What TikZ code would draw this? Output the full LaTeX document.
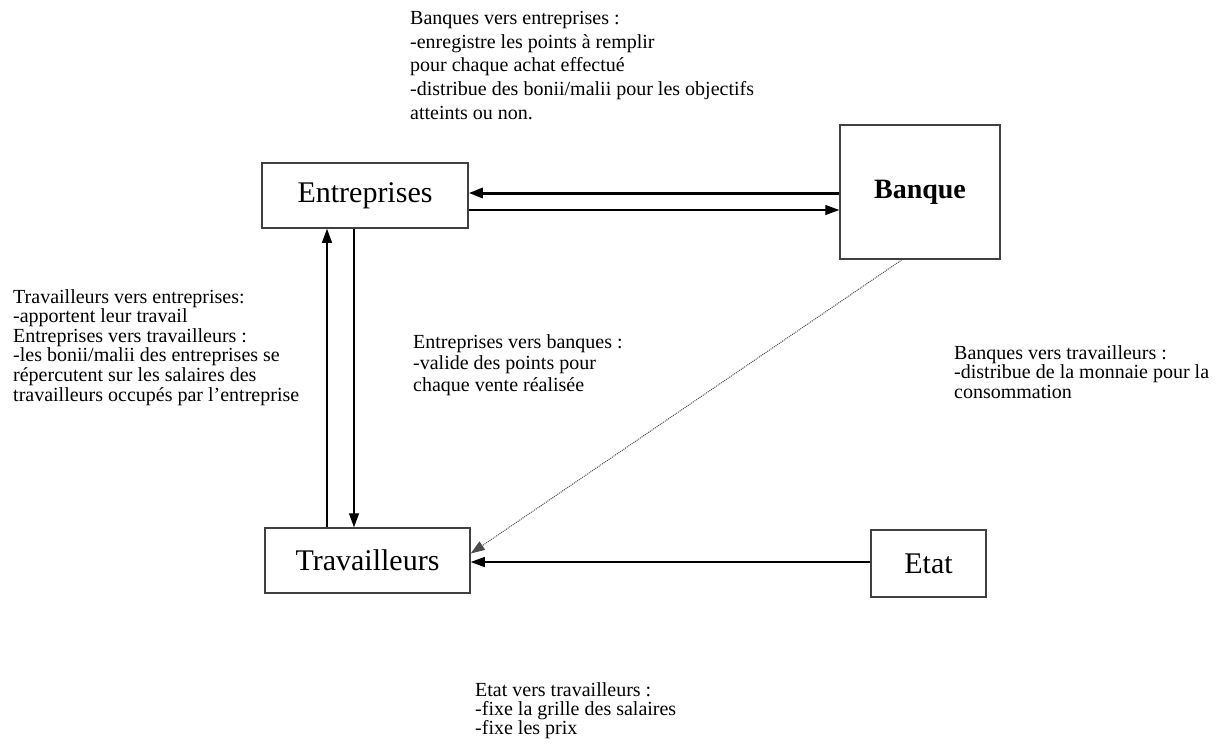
\documentclass[tikz,border=0pt]{standalone}
\usepackage{fontspec}
\setmainfont{Liberation Serif}
\usepackage{tikz}
\usetikzlibrary{arrows.meta}
\usetikzlibrary{positioning}

\begin{document}
\begin{tikzpicture}[x=1pt, y=-1pt, >={Triangle[length=14pt,width=10pt]},
    box/.style={draw=black!75, line width=1.5pt, inner sep=0pt, font=\fontsize{30}{30}\selectfont},
    note/.style={anchor=north west, inner sep=0pt, align=left},
    fleche/.style={->, line width=1.3pt}]
    \useasboundingbox[fill=white] (0,0) rectangle (1217,747);

    \node[box, minimum width=206pt, minimum height=65pt] (ent) at (365,195.5) {Entreprises};
    \node[box, minimum width=160pt, minimum height=134pt, font=\fontsize{28}{28}\selectfont\bfseries] (banque) at (920,192) {Banque};
    \node[box, minimum width=205pt, minimum height=65pt] (trav) at (367.5,560.5) {Travailleurs\hspace{14pt}};
    \node[box, minimum width=115pt, minimum height=67pt] (etat) at (928.5,563.5) {Etat};

    \node[note, font=\fontsize{20}{23.75}\selectfont] (bq-ent) at (410,11)
        {Banques vers entreprises :\\-enregistre les points à remplir\\pour chaque achat effectué\\-distribue des bonii/malii pour les objectifs\\atteints ou non.};
    \node[note, font=\fontsize{20}{19.6}\selectfont] (trav-ent) at (13,289)
        {Travailleurs vers entreprises:\\-apportent leur travail\\Entreprises vers travailleurs :\\-les bonii/malii des entreprises se\\répercutent sur les salaires des\\travailleurs occupés par l'entreprise};
    \node[note, font=\fontsize{20}{21.5}\selectfont] (ent-bq) at (413,334)
        {Entreprises vers banques :\\-valide des points pour\\chaque vente réalisée};
    \node[note, font=\fontsize{20}{19.5}\selectfont] (bq-trav) at (954,345)
        {Banques vers travailleurs :\\-distribue de la monnaie pour la\\consommation};
    \node[note, font=\fontsize{20}{19}\selectfont] (etat-trav) at (475,682)
        {Etat vers travailleurs :\\-fixe la grille des salaires\\-fixe les prix};

    \draw[fleche, line width=3pt] (banque.west |- 0,193) -- (ent.east |- 0,193);
    \draw[fleche] (ent.east |- 0,210) -- (banque.west |- 0,210);
    \draw[fleche] (trav.north -| 327,0) -- (ent.south -| 327,0);
    \draw[fleche] (ent.south -| 354,0) -- (trav.north -| 354,0);
    \draw[->, line width=1pt, black!70, densely dotted] (banque.south -| 902,0) -- ([yshift=7pt]trav.east);
    \draw[fleche] (etat.west |- 0,562) -- (trav.east |- 0,562);
\end{tikzpicture}
\end{document}
